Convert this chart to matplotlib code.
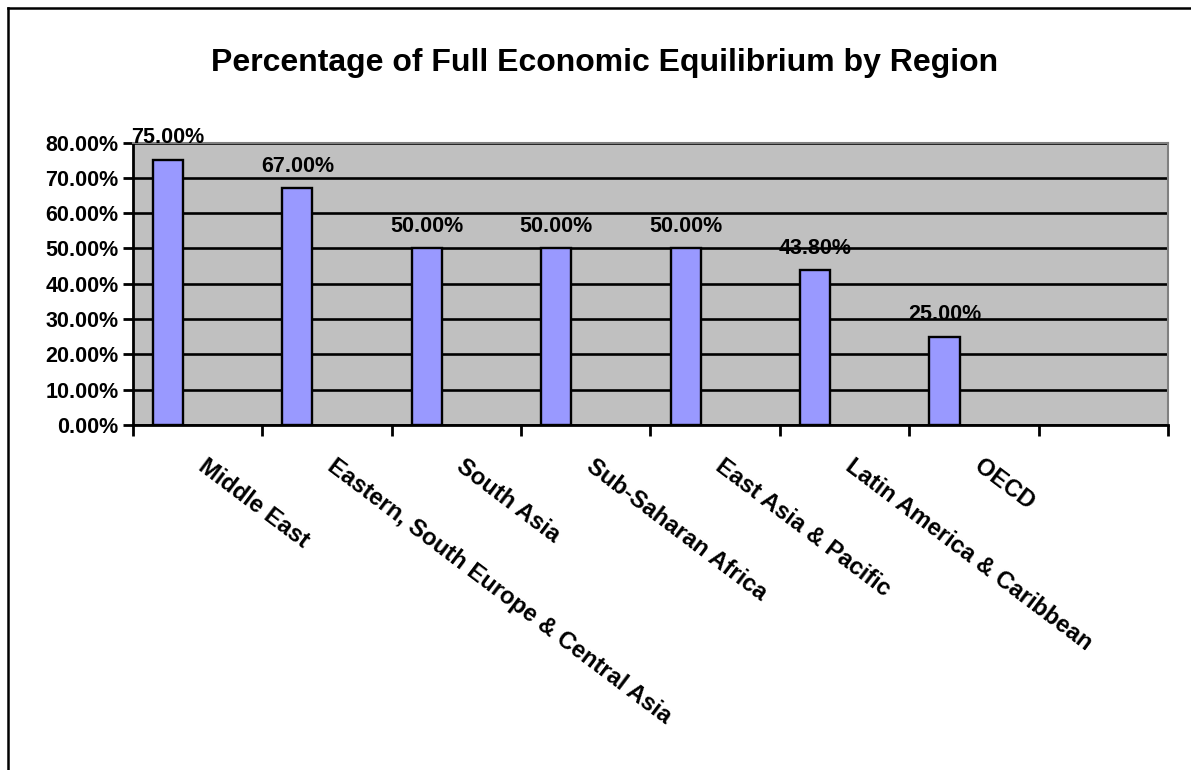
import matplotlib
matplotlib.use("Agg")
import matplotlib.pyplot as plt
import matplotlib.transforms as mtransforms
from matplotlib.lines import Line2D
import numpy as np

### Data ###

regions = ["Middle East", "Eastern, South Europe & Central Asia", "South Asia",
           "Sub-Saharan Africa", "East Asia & Pacific", "Latin America & Caribbean", "OECD"]
pct_equilibrium = [75.0, 67.0, 50.0, 50.0, 50.0, 43.8, 25.0]  # OECD has no bar
y_ticks = [0, 10, 20, 30, 40, 50, 60, 70, 80]
title = "Percentage of Full Economic Equilibrium by Region"

### Plot ###

plt.rcParams['font.family'] = ['Liberation Sans', 'DejaVu Sans']
plt.rcParams['font.weight'] = 'bold'

fig = plt.figure(figsize=(11.91, 7.70), dpi=100)
ax = fig.add_axes([132.7 / 1191, 1 - 425 / 770, (1168 - 132.7) / 1191, (425 - 142.5) / 770])

n_cat = len(regions) + 1  # Excel axis has one empty slot after OECD
x = np.arange(len(regions))
vals = np.array(pct_equilibrium + [np.nan] * (len(regions) - len(pct_equilibrium)))
bar_x = x - 0.227
ax.bar(bar_x, vals, width=0.232, color="#9999FF", edgecolor="black", linewidth=1.7, zorder=3)

# value labels above the bars
for bx, v in zip(bar_x, vals):
    if np.isnan(v):
        continue
    ax.annotate(f"{v:.2f}%", (bx, v), xytext=(0, 12), textcoords="offset points",
                ha="center", va="baseline", fontsize=15.5, fontweight="bold", zorder=4)

ax.set_facecolor("#C0C0C0")
ax.set_xlim(-0.5, n_cat - 0.5)
ax.set_ylim(0, 80)
ax.set_yticks(y_ticks)
ax.set_yticklabels([f"{t:.2f}%" for t in y_ticks], fontsize=15.5, fontweight="bold")
ax.yaxis.grid(True, color="black", linewidth=1.9, zorder=1)
ax.set_axisbelow(True)

ax.set_xticks([])
ax.set_xticks(np.arange(n_cat + 1) - 0.5, minor=True)
ax.tick_params(axis="x", which="minor", length=8, width=2, direction="out", color="black")
ax.tick_params(axis="y", length=7, width=2, direction="out", pad=3, color="black")

for side in ("left", "bottom"):
    ax.spines[side].set_color("black")
    ax.spines[side].set_linewidth(2)
for side in ("top", "right"):
    ax.spines[side].set_color("#808080")
    ax.spines[side].set_linewidth(1.5)

# rotated category labels, anchored at top-left below each slot
offset = mtransforms.ScaledTranslation(10 / 100, -30 / 100, fig.dpi_scale_trans)
trans = ax.get_xaxis_transform() + offset
for xi, name in zip(x, regions):
    ax.text(xi, 0, name, transform=trans, rotation=-37, rotation_mode="anchor",
            ha="left", va="top", fontsize=17.1, fontweight="bold", clip_on=False)

fig.text(604.5 / 1191, 1 - 70.5 / 770, title, ha="center", va="baseline",
         fontsize=23, fontweight="bold")

# chart frame (left and top edges visible in the crop)
fig.add_artist(Line2D([7.5 / 1191, 7.5 / 1191], [0, 1 - 7.5 / 770], color="black",
                      linewidth=1.8, transform=fig.transFigure))
fig.add_artist(Line2D([7.5 / 1191, 1], [1 - 7.5 / 770, 1 - 7.5 / 770], color="black",
                      linewidth=1.8, transform=fig.transFigure))

fig.savefig("out.png", dpi=100)
